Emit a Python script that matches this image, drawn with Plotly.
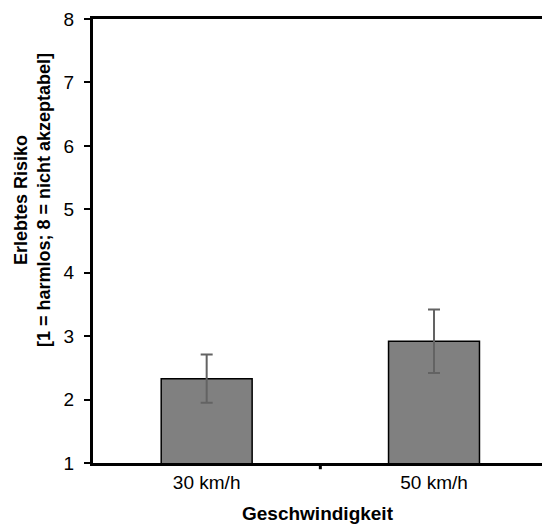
import plotly.graph_objects as go

categories = ["30 km/h", "50 km/h"]
means = [2.33, 2.92]
errors = [0.38, 0.50]
y_ticks = [1, 2, 3, 4, 5, 6, 7, 8]

FONT = "Arial, Liberation Sans, sans-serif"

fig = go.Figure()
fig.add_trace(go.Bar(
    x=[0, 1],
    y=means,
    width=0.4,
    marker=dict(color="#808080", line=dict(color="black", width=1.5)),
    error_y=dict(type="data", array=errors, color="#636363", thickness=2, width=6),
))

fig.add_shape(type="line", xref="x", yref="paper", x0=0.5, x1=0.5, y0=0, y1=-0.014,
              line=dict(color="black", width=3))

fig.add_annotation(
    text="<b>Erlebtes Risiko<br>[1 = harmlos; 8 = nicht akzeptabel]</b>",
    xref="paper", yref="paper", x=-0.136, y=0.592,
    xanchor="center", yanchor="middle", textangle=-90, showarrow=False,
    font=dict(family=FONT, size=18, color="black"),
)

fig.update_layout(
    width=542, height=530,
    margin=dict(l=93, r=0, t=19, b=67),
    paper_bgcolor="white", plot_bgcolor="white",
    showlegend=False,
    font=dict(family=FONT, size=19, color="black"),
    xaxis=dict(
        range=[-0.5, 1.475],
        tickmode="array", tickvals=[0, 1], ticktext=categories,
        ticks="", showgrid=False, zeroline=False,
        showline=True, linecolor="black", linewidth=3, mirror=True,
        tickfont=dict(family=FONT, size=19),
        title=dict(text="<b>Geschwindigkeit</b>", font=dict(family=FONT, size=19), standoff=15),
    ),
    yaxis=dict(
        range=[1, 8],
        tickmode="array", tickvals=y_ticks,
        ticks="outside", ticklen=6, tickwidth=2, tickcolor="black",
        ticklabelstandoff=6,
        showgrid=False, zeroline=False,
        showline=True, linecolor="black", linewidth=3,
        tickfont=dict(family=FONT, size=19),
    ),
)

fig.write_html("out.html")
